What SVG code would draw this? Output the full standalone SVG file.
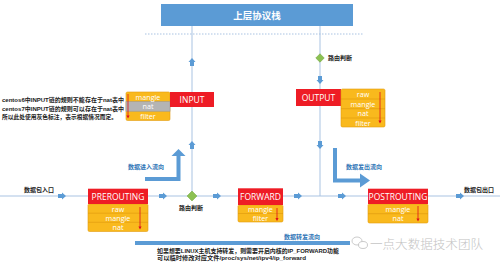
<svg xmlns="http://www.w3.org/2000/svg" width="500" height="266" viewBox="0 0 500 266">
<defs>
<style>
.ln{stroke:#A9C3E2;stroke-width:1;fill:none}
.red{fill:#EE1C25}
.org{fill:#F9B91D;stroke:#E29A0E;stroke-width:0.6}
.gry{fill:#B4B4B4;stroke:#9A9A9A;stroke-width:0.6}
.sep{stroke:#D9900A;stroke-width:0.5}
.tw{font-family:"Open Sans","Liberation Sans",sans-serif;fill:#fff;text-anchor:middle;dominant-baseline:central}
.tn{font-size:8.5px}
.tc{font-size:7.2px}
.cn{font-family:"Liberation Sans","Noto Sans CJK SC",sans-serif;font-size:6px;font-weight:bold;fill:#222;dominant-baseline:central}
.cb{font-family:"Noto Sans CJK SC",sans-serif;font-size:6px;font-weight:bold;fill:#2E75B6;dominant-baseline:central}
.ra{stroke:#E0101A;stroke-width:0.8;fill:none;marker-end:url(#rh)}
.dia{fill:#8CC152;stroke:#6FA33A;stroke-width:0.5}
.blk{fill:#5B9BD5}
.big{stroke:#5B9BD5;stroke-width:4;fill:none}
</style>
<marker id="rh" viewBox="0 0 6 6" refX="3" refY="3" markerWidth="4" markerHeight="4" orient="auto">
<path d="M0,0 L6,3 L0,6 z" fill="#E0101A"/>
</marker>
<path id="sa" d="M-4,-2 L0,-2 L0,-3.5 L4,0 L0,3.5 L0,2 L-4,2 z" fill="#5B9BD5"/>
</defs>

<g id="connectors">
<line class="ln" x1="0" y1="196" x2="500" y2="196"/>
<line class="ln" x1="192" y1="26" x2="192" y2="196"/>
<line class="ln" x1="320" y1="26" x2="320" y2="196"/>
<line x1="145" y1="34" x2="363" y2="34" stroke="#A9C3E2" stroke-width="1" stroke-dasharray="1.5,1.5"/>
<use href="#sa" transform="translate(192,62) rotate(-90)"/>
<use href="#sa" transform="translate(192,145) rotate(-90)"/>
<use href="#sa" transform="translate(320,80) rotate(90)"/>
<use href="#sa" transform="translate(320,145) rotate(90)"/>
<use href="#sa" transform="translate(62,196)"/>
<use href="#sa" transform="translate(163,196)"/>
<use href="#sa" transform="translate(217,196)"/>
<use href="#sa" transform="translate(298,196)"/>
<use href="#sa" transform="translate(342,196)"/>
<use href="#sa" transform="translate(460,196)"/>
<polyline class="big" points="145,179 178.5,179 178.5,155"/>
<polygon class="blk" points="171.5,156 178.5,149 185.5,156"/>
<polyline class="big" points="335,148 335,180.5 361,180.5"/>
<polygon class="blk" points="360,173.5 370,180.5 360,187.5"/>
<rect class="blk" x="135" y="241" width="215" height="4"/>
</g>

<g id="upper-stack">
<rect x="161" y="4" width="192" height="22" fill="#5B9BD5"/>
<text x="257" y="15" font-family="Noto Sans CJK SC,sans-serif" font-size="9.5" font-weight="bold" fill="#fff" text-anchor="middle" dominant-baseline="central">上层协议栈</text>
</g>

<g id="route-top">
<rect class="dia" x="317" y="55" width="6" height="6" transform="rotate(45 320 58)"/>
<text class="cn" x="328" y="58" font-size="5.5">路由判断</text>
</g>

<g id="route-bottom">
<rect class="dia" x="188.5" y="192.5" width="7" height="7" transform="rotate(45 192 196)"/>
<text class="cn" x="179" y="208">路由判断</text>
</g>

<g id="input">
<rect class="org" x="126" y="92" width="44" height="28.5" rx="1.5"/>
<rect class="gry" x="126" y="101.7" width="44" height="9.5"/>
<rect class="red" x="170" y="92" width="44" height="15"/>
<text class="tw tn" x="192" y="99.5">INPUT</text>
<text class="tw tc" x="148" y="96.6">mangle</text>
<text class="tw tc" x="148" y="106.2">nat</text>
<text class="tw tc" x="148" y="115.6">filter</text>
<line class="ra" x1="128" y1="94" x2="128" y2="117"/>
</g>

<g id="input-note">
<text class="cn" x="2" y="100" textLength="122" lengthAdjust="spacingAndGlyphs">centos6中INPUT链的规则不能存在于nat表中</text>
<text class="cn" x="2" y="108.5" textLength="122" lengthAdjust="spacingAndGlyphs">centos7中INPUT链的规则可以存在于nat表中</text>
<text class="cn" x="2" y="117" textLength="115" lengthAdjust="spacingAndGlyphs">所以此处使用灰色标注，表示根据情况而定。</text>
</g>

<g id="output">
<rect class="red" x="296" y="89" width="45" height="17"/>
<text class="tw tn" x="318.5" y="97.5">OUTPUT</text>
<rect class="org" x="341" y="89" width="44" height="38" rx="1.5"/>
<line class="sep" x1="341" y1="99" x2="385" y2="99"/>
<line class="sep" x1="341" y1="108.7" x2="385" y2="108.7"/>
<line class="sep" x1="341" y1="118" x2="385" y2="118"/>
<text class="tw tc" x="363" y="94">raw</text>
<text class="tw tc" x="363" y="103.8">mangle</text>
<text class="tw tc" x="363" y="113.3">nat</text>
<text class="tw tc" x="363" y="122.5">filter</text>
<line class="ra" x1="380" y1="92" x2="380" y2="122"/>
</g>

<g id="prerouting">
<rect class="org" x="88" y="204" width="60" height="27.5" rx="1.5"/>
<line class="sep" x1="88" y1="213.2" x2="148" y2="213.2"/>
<line class="sep" x1="88" y1="222.3" x2="148" y2="222.3"/>
<rect class="red" x="88" y="188.7" width="60" height="15.3"/>
<text class="tw tn" x="118" y="196.3">PREROUTING</text>
<text class="tw tc" x="118" y="208.6">raw</text>
<text class="tw tc" x="118" y="217.8">mangle</text>
<text class="tw tc" x="118" y="226.9">nat</text>
<line class="ra" x1="140" y1="207" x2="140" y2="228"/>
</g>

<g id="forward">
<rect class="org" x="238" y="205" width="45" height="17" rx="1.5"/>
<line class="sep" x1="238" y1="213.5" x2="283" y2="213.5"/>
<rect class="red" x="238" y="188.3" width="45" height="16.7"/>
<text class="tw tn" x="260.5" y="196.6">FORWARD</text>
<text class="tw tc" x="260.5" y="209.2">mangle</text>
<text class="tw tc" x="260.5" y="217.7">filter</text>
<line class="ra" x1="277" y1="208" x2="277" y2="219.5"/>
</g>

<g id="postrouting">
<rect class="org" x="368" y="204" width="60" height="19" rx="1.5"/>
<line class="sep" x1="368" y1="213.7" x2="428" y2="213.7"/>
<rect class="red" x="368" y="188.7" width="60" height="15.3"/>
<text class="tw tn" x="398" y="196.3">POSTROUTING</text>
<text class="tw tc" x="398" y="208.8">mangle</text>
<text class="tw tc" x="398" y="218.3">nat</text>
<line class="ra" x1="418" y1="206" x2="418" y2="220"/>
</g>

<g id="labels">
<text class="cn" x="24" y="190" font-weight="normal">数据包入口</text>
<text class="cn" x="464" y="190" font-weight="normal">数据包出口</text>
<text class="cb" x="128" y="166">数据进入流向</text>
<text class="cb" x="346" y="166">数据发出流向</text>
<text class="cb" x="284" y="236">数据转发流向</text>
<text class="cn" x="157" y="251" textLength="182" lengthAdjust="spacingAndGlyphs">如果想要LINUX主机支持转发，则需要开启内核的IP_FORWARD功能</text>
<text class="cn" x="157" y="257.5" textLength="149" lengthAdjust="spacingAndGlyphs">可以临时修改对应文件/proc/sys/net/ipv4/ip_forward</text>
</g>

<g id="watermark" opacity="0.9">
<ellipse cx="357" cy="241" rx="5" ry="4" fill="#fff" stroke="#B8B8B8" stroke-width="0.8"/>
<ellipse cx="363" cy="245" rx="4.5" ry="3.5" fill="#fff" stroke="#B8B8B8" stroke-width="0.8"/>
<text x="370" y="243" font-family="Noto Sans CJK SC,sans-serif" font-size="12.5" font-weight="300" fill="#BDBDBD" dominant-baseline="central" textLength="113" lengthAdjust="spacingAndGlyphs">一点大数据技术团队</text>
</g>
</svg>
